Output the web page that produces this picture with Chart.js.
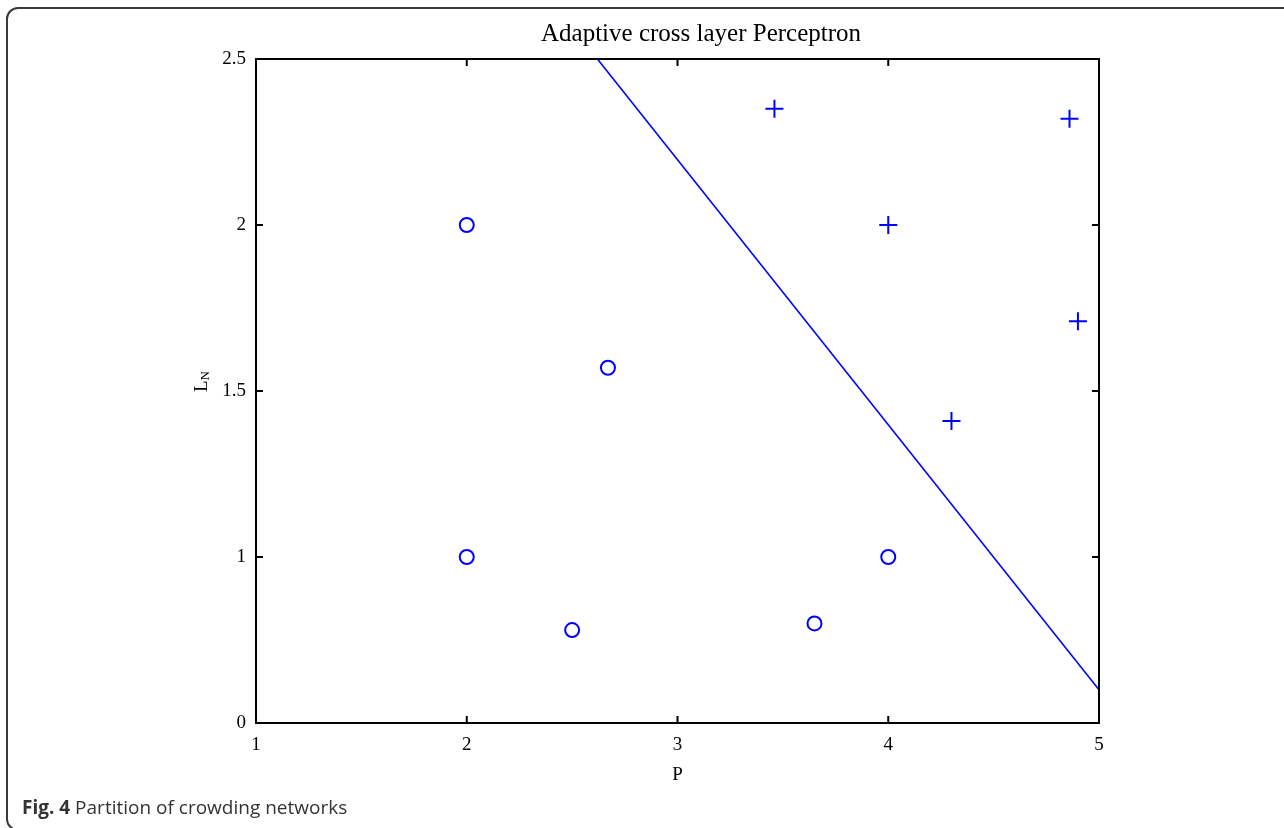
<!DOCTYPE html>
<html>
<head>
<meta charset="utf-8">
<script src="https://cdn.jsdelivr.net/npm/chart.js@4/dist/chart.umd.min.js"></script>
<style>
  html, body { margin: 0; padding: 0; background: #fff; overflow: hidden; }
  body { width: 1284px; height: 828px; position: relative; }
  #card {
    position: absolute; left: 6px; top: 7px; width: 1400px; height: 824px;
    border: 2px solid #3a3a3a; border-radius: 12px; box-sizing: border-box;
  }
  #chart { position: absolute; left: 0; top: 0; }
  #caption {
    position: absolute; left: 22px; top: 794px;
    font-family: "Open Sans", sans-serif; font-size: 19px; color: #333;
  }
  #caption b { font-weight: 700; }
</style>
</head>
<body>
<div id="card"></div>
<canvas id="chart" width="1284" height="828"></canvas>
<div id="caption"><b>Fig. 4</b> Partition of crowding networks</div>
<script>
// Data
const circleX = [2, 2.67, 2, 2.5, 3.65, 4];
const circleY = [2, 1.57, 1, 0.78, 0.8, 1];
const plusX = [3.46, 4.86, 4, 4.9, 4.3];
const plusY = [2.35, 2.32, 2, 1.71, 1.41];
const lineX = [2.62, 5];
const lineY = [2.5, 0.6];

// Axis ticks
const xTicks = [1, 2, 3, 4, 5];
const yTicks = [0.5, 1, 1.5, 2, 2.5];
const yTickLabels = ["0", "1", "1.5", "2", "2.5"];

const BLUE = "#0000ff";
const SERIF = "'Liberation Serif', 'Times New Roman', serif";

const toPoints = (xs, ys) => xs.map((x, i) => ({ x: x, y: ys[i] }));

// title, frame, inward ticks and axis titles
const framePlugin = {
  id: "frame",
  afterDraw(chart) {
    const { ctx, chartArea: a, scales } = chart;
    const len = 7;
    ctx.save();
    ctx.strokeStyle = "#000";
    ctx.lineWidth = 2;
    ctx.strokeRect(a.left, a.top, a.right - a.left, a.bottom - a.top);
    ctx.beginPath();
    xTicks.forEach((v) => {
      const px = scales.x.getPixelForValue(v);
      ctx.moveTo(px, a.bottom); ctx.lineTo(px, a.bottom - len);
      ctx.moveTo(px, a.top); ctx.lineTo(px, a.top + len);
    });
    yTicks.forEach((v) => {
      const py = scales.y.getPixelForValue(v);
      ctx.moveTo(a.left, py); ctx.lineTo(a.left + len, py);
      ctx.moveTo(a.right, py); ctx.lineTo(a.right - len, py);
    });
    ctx.stroke();

    ctx.fillStyle = "#000";
    ctx.textAlign = "center";
    ctx.textBaseline = "middle";
    ctx.font = "25px " + SERIF;
    ctx.fillText("Adaptive cross layer Perceptron", 701, 34);

    ctx.font = "19px " + SERIF;
    ctx.fillText("P", (a.left + a.right) / 2, 775);

    ctx.translate(a.left - 55, 382);
    ctx.rotate(-Math.PI / 2);
    ctx.textAlign = "left";
    ctx.textBaseline = "alphabetic";
    ctx.font = "19px " + SERIF;
    const wL = ctx.measureText("L").width;
    ctx.fillText("L", -10, 6);
    ctx.font = "13px " + SERIF;
    ctx.fillText("N", -10 + wL, 8);
    ctx.restore();
  },
};

new Chart(document.getElementById("chart"), {
  type: "scatter",
  data: {
    datasets: [
      {
        label: "circles",
        data: toPoints(circleX, circleY),
        pointStyle: "circle",
        pointRadius: 7,
        pointBorderWidth: 2,
        pointBorderColor: BLUE,
        pointBackgroundColor: "rgba(0,0,0,0)",
      },
      {
        label: "plus",
        data: toPoints(plusX, plusY),
        pointStyle: "cross",
        pointRadius: 9,
        pointBorderWidth: 2,
        pointBorderColor: BLUE,
        pointBackgroundColor: BLUE,
      },
      {
        type: "line",
        label: "boundary",
        data: toPoints(lineX, lineY),
        borderColor: BLUE,
        borderWidth: 1.6,
        pointRadius: 0,
        fill: false,
      },
    ],
  },
  options: {
    responsive: false,
    animation: false,
    layout: { padding: { left: 0, right: 185, top: 59, bottom: 0 } },
    plugins: {
      legend: { display: false },
      tooltip: { enabled: false },
      title: { display: false },
    },
    scales: {
      x: {
        type: "linear",
        min: 1,
        max: 5,
        afterFit: (s) => { s.height = 105; },
        afterBuildTicks: (s) => { s.ticks = xTicks.map((v) => ({ value: v })); },
        grid: { display: true, color: "rgba(0,0,0,0)", drawTicks: false, drawOnChartArea: false },
        border: { display: false },
        ticks: {
          color: "#000",
          padding: 11,
          maxRotation: 0,
          font: { family: SERIF, size: 19 },
          callback: (v) => String(v),
        },
      },
      y: {
        type: "linear",
        min: 0.5,
        max: 2.5,
        afterFit: (s) => { s.width = 256; },
        afterBuildTicks: (s) => { s.ticks = yTicks.map((v) => ({ value: v })); },
        grid: { display: true, color: "rgba(0,0,0,0)", drawTicks: false, drawOnChartArea: false },
        border: { display: false },
        ticks: {
          color: "#000",
          padding: 10,
          font: { family: SERIF, size: 19 },
          callback: (v) => yTickLabels[yTicks.indexOf(v)],
        },
      },
    },
  },
  plugins: [framePlugin],
});
</script>
</body>
</html>
